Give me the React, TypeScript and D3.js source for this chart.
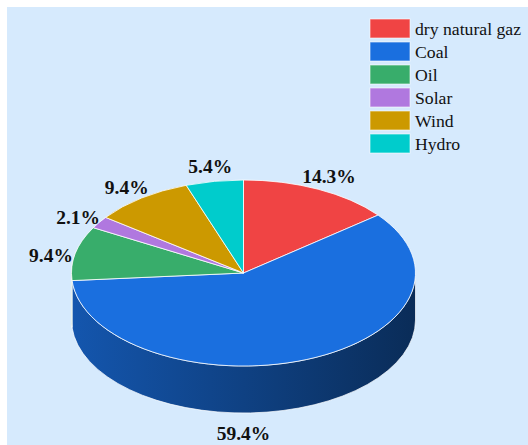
import React from "react";
import * as d3 from "d3";

const categories = ["dry natural gaz", "Coal", "Oil", "Solar", "Wind", "Hydro"];
const values = [14.3, 59.4, 9.4, 2.1, 9.4, 5.4];
const palette = ["#f04444", "#1a6fdf", "#38ad6b", "#b078df", "#cc9900", "#00cccc"];

const W = 528;
const H = 445;

export default function App() {
  const cx = 243.5, cy = 273, rx = 172, ry = 93, depth = 47;
  const labelCy = 280, labelRx = 197, labelRy = 115;
  const total = d3.sum(values);
  const arcs = d3.pie<number>().sort(null).value((d) => d)(values);
  const pt = (a: number, dy = 0): [number, number] => [cx + rx * Math.sin(a), cy - ry * Math.cos(a) + dy];

  const topPath = (a0: number, a1: number) => {
    const [x0, y0] = pt(a0);
    const [x1, y1] = pt(a1);
    const large = a1 - a0 > Math.PI ? 1 : 0;
    return `M${cx},${cy}L${x0},${y0}A${rx},${ry} 0 ${large} 1 ${x1},${y1}Z`;
  };
  const sidePath = (a0: number, a1: number) => {
    const s = Math.max(a0, Math.PI / 2);
    const e = Math.min(a1, (3 * Math.PI) / 2);
    if (e <= s) return null;
    const [x0, y0] = pt(s);
    const [x1, y1] = pt(e);
    return `M${x0},${y0}A${rx},${ry} 0 0 1 ${x1},${y1}L${x1},${y1 + depth}A${rx},${ry} 0 0 0 ${x0},${y0 + depth}Z`;
  };

  const labelPos = (a0: number, a1: number): [number, number] => {
    const m = (a0 + a1) / 2;
    const c = Math.cos(m);
    const y = labelCy - labelRy * c + (c < 0 ? depth : 0);
    const t = Math.max(-1, Math.min(1, (y - labelCy) / labelRy));
    const sign = Math.sin(m) >= 0 ? 1 : -1;
    const x = cx + sign * labelRx * Math.sqrt(1 - t * t);
    return [x, y];
  };

  return (
    <div style={{ position: "absolute", left: 0, top: 0 }}>
      <svg width={W} height={H} style={{ display: "block" }}>
        <defs>
          {palette.map((c, i) => {
            const col = d3.color(c)!;
            return (
              <linearGradient key={i} id={`side-${i}`} gradientUnits="userSpaceOnUse" x1={cx - rx} x2={cx + rx} y1={0} y2={0}>
                <stop offset="0%" stopColor={col.darker(0.7).formatHex()} />
                <stop offset="100%" stopColor={col.darker(2.6).formatHex()} />
              </linearGradient>
            );
          })}
        </defs>
        <rect x={7} y={7} width={W - 7} height={H - 7} fill="#d6eafd" />
        <g>
          {arcs.map((a, i) => {
            const d = sidePath(a.startAngle, a.endAngle);
            return d ? (
              <path key={`s${i}`} d={d} fill={`url(#side-${i})`} stroke="#ffffff" strokeOpacity={0.7} strokeWidth={1} />
            ) : null;
          })}
          {arcs.map((a, i) => (
            <path key={`t${i}`} d={topPath(a.startAngle, a.endAngle)} fill={palette[i]} stroke="#ffffff" strokeOpacity={0.8} strokeWidth={1} strokeLinejoin="round" />
          ))}
        </g>
        <g fontFamily="'Liberation Serif', 'Times New Roman', serif" fontWeight="bold" fontSize={19.5} fill="#111">
          {arcs.map((a, i) => {
            const [x, y] = labelPos(a.startAngle, a.endAngle);
            return (
              <text key={`l${i}`} x={x} y={y} dy="0.33em" textAnchor="middle">
                {((values[i] / total) * 100).toFixed(1)}%
              </text>
            );
          })}
        </g>
        <g fontFamily="'Liberation Serif', 'Times New Roman', serif" fontSize={17.7} fill="#111">
          {categories.map((c, i) => (
            <g key={c} transform={`translate(370,${19 + i * 23})`}>
              <rect width={40} height={19} fill={palette[i]} stroke="#ffffff" strokeOpacity={0.6} strokeWidth={1} />
              <text x={45} y={15.5}>{c}</text>
            </g>
          ))}
        </g>
      </svg>
    </div>
  );
}
